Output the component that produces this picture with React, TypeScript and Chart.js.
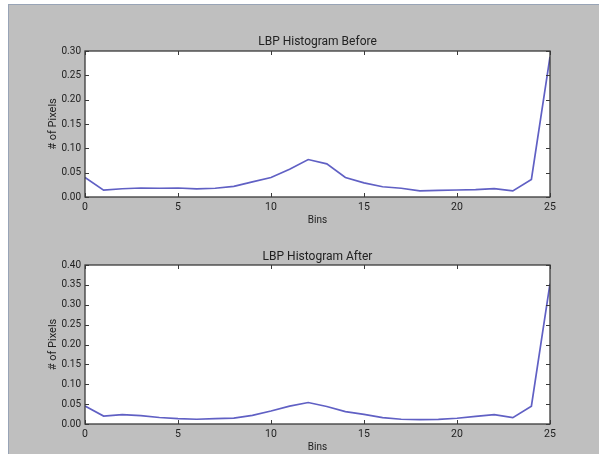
import React, { useEffect, useRef } from "react";
import { Chart, registerables } from "chart.js";

Chart.register(...registerables);

const bins = [0, 1, 2, 3, 4, 5, 6, 7, 8, 9, 10, 11, 12, 13, 14, 15, 16, 17, 18, 19, 20, 21, 22, 23, 24, 25];
const beforeValues = [0.040, 0.014, 0.017, 0.0185, 0.018, 0.0185, 0.0165, 0.018, 0.022, 0.031, 0.040, 0.057, 0.077, 0.068, 0.040, 0.029, 0.021, 0.018, 0.0125, 0.0137, 0.0144, 0.015, 0.017, 0.0126, 0.036, 0.288];
const afterValues = [0.045, 0.020, 0.0236, 0.021, 0.0163, 0.0136, 0.012, 0.0136, 0.015, 0.0218, 0.0327, 0.045, 0.054, 0.044, 0.031, 0.024, 0.016, 0.012, 0.011, 0.0115, 0.0145, 0.019, 0.0236, 0.016, 0.045, 0.353];
const xTicks = [0, 5, 10, 15, 20, 25];
const beforeYTicks = [0, 0.05, 0.1, 0.15, 0.2, 0.25, 0.3];
const afterYTicks = [0, 0.05, 0.1, 0.15, 0.2, 0.25, 0.3, 0.35, 0.4];
const titles = ["LBP Histogram Before", "LBP Histogram After"];
const xLabel = "Bins";
const yLabel = "# of Pixels";

const FONT = "Roboto, 'Liberation Sans', Arial, sans-serif";
const TEXT = "#222222";

const framePlugin = {
  id: "frameTicks",
  beforeDraw(chart: any) {
    const { ctx, chartArea: a } = chart;
    ctx.save();
    ctx.fillStyle = "#ffffff";
    ctx.fillRect(a.left, a.top, a.right - a.left, a.bottom - a.top);
    ctx.restore();
  },
  afterDraw(chart: any) {
    const { ctx, chartArea: a } = chart;
    const xs = chart.scales.x;
    const ys = chart.scales.y;
    const len = 4;
    ctx.save();
    ctx.strokeStyle = "#3a3a3a";
    ctx.lineWidth = 1;
    ctx.beginPath();
    xs.ticks.forEach((t: any) => {
      const px = Math.round(xs.getPixelForValue(t.value)) + 0.5;
      ctx.moveTo(px, a.bottom);
      ctx.lineTo(px, a.bottom - len);
      ctx.moveTo(px, a.top);
      ctx.lineTo(px, a.top + len);
    });
    ys.ticks.forEach((t: any) => {
      const py = Math.round(ys.getPixelForValue(t.value)) + 0.5;
      ctx.moveTo(a.left, py);
      ctx.lineTo(a.left + len, py);
      ctx.moveTo(a.right, py);
      ctx.lineTo(a.right - len, py);
    });
    ctx.stroke();
    ctx.lineWidth = 1.3;
    ctx.strokeRect(a.left, a.top, a.right - a.left, a.bottom - a.top);
    ctx.restore();
  },
};

function makeConfig(title: string, values: number[], yTicks: number[], padTop: number, titlePadTop: number): any {
  return {
    type: "line",
    data: {
      datasets: [
        {
          data: bins.map((b, i) => ({ x: b, y: values[i] })),
          borderColor: "#6060c4",
          borderWidth: 1.7,
          pointRadius: 0,
          tension: 0,
          fill: false,
          xAxisID: "x",
          yAxisID: "y",
        },
      ],
    },
    options: {
      animation: false,
      responsive: false,
      maintainAspectRatio: false,
      layout: { padding: { top: padTop, left: 40, right: 49, bottom: 0.7 } },
      plugins: {
        legend: { display: false },
        tooltip: { enabled: false },
        title: { display: false },
      },
      scales: {
        x: {
          type: "linear",
          min: bins[0],
          max: bins[bins.length - 1],
          afterBuildTicks: (s: any) => {
            s.ticks = xTicks.map((v) => ({ value: v }));
          },
          afterFit: (s: any) => {
            s.height = 29.3;
          },
          grid: { display: false, drawTicks: false },
          border: { display: false },
          ticks: {
            color: TEXT,
            padding: 4,
            maxRotation: 0,
            font: { family: FONT, size: 10.5 },
            callback: (v: any) => String(v),
          },
          title: {
            display: true,
            text: xLabel,
            color: TEXT,
            font: { family: FONT, size: 10 },
            padding: { top: 0, bottom: 0 },
          },
        },
        xTop: {
          type: "linear",
          position: "top",
          min: bins[0],
          max: bins[bins.length - 1],
          afterFit: (s: any) => {
            s.height = 20;
          },
          grid: { display: false, drawTicks: false },
          border: { display: false },
          ticks: { display: false },
          title: {
            display: true,
            text: title,
            color: TEXT,
            font: { family: FONT, size: 12 },
            padding: { top: titlePadTop, bottom: 0 },
          },
        },
        y: {
          type: "linear",
          min: yTicks[0],
          max: yTicks[yTicks.length - 1],
          afterBuildTicks: (s: any) => {
            s.ticks = yTicks.map((v) => ({ value: v }));
          },
          afterFit: (s: any) => {
            s.width = 45;
          },
          grid: { display: false, drawTicks: false },
          border: { display: false },
          ticks: {
            color: TEXT,
            padding: 4,
            font: { family: FONT, size: 10 },
            callback: (v: any) => Number(v).toFixed(2),
          },
          title: {
            display: true,
            text: yLabel,
            color: TEXT,
            font: { family: FONT, size: 11 },
            padding: { top: 7, bottom: 0 },
          },
        },
      },
    },
    plugins: [framePlugin],
  };
}

export default function App() {
  const ref1 = useRef<HTMLCanvasElement>(null);
  const ref2 = useRef<HTMLCanvasElement>(null);

  useEffect(() => {
    const c1 = new Chart(ref1.current!, makeConfig(titles[0], beforeValues, beforeYTicks, 31, 3.7));
    const c2 = new Chart(ref2.current!, makeConfig(titles[1], afterValues, afterYTicks, 18, 4.7));
    return () => {
      c1.destroy();
      c2.destroy();
    };
  }, []);

  return (
    <div style={{ position: "fixed", left: 0, top: 0, width: 599, height: 454, background: "#ffffff", overflow: "hidden" }}>
      <div
        style={{
          position: "absolute",
          left: 8,
          top: 4,
          width: 591,
          height: 450,
          background: "#bfbfbf",
          borderLeft: "1px solid #98a4b6",
          borderTop: "1px solid #98a4b6",
          boxSizing: "border-box",
        }}
      />
      <canvas ref={ref1} width={599} height={227} style={{ position: "absolute", left: 0, top: 0, width: 599, height: 227 }} />
      <canvas ref={ref2} width={599} height={227} style={{ position: "absolute", left: 0, top: 227, width: 599, height: 227 }} />
    </div>
  );
}
